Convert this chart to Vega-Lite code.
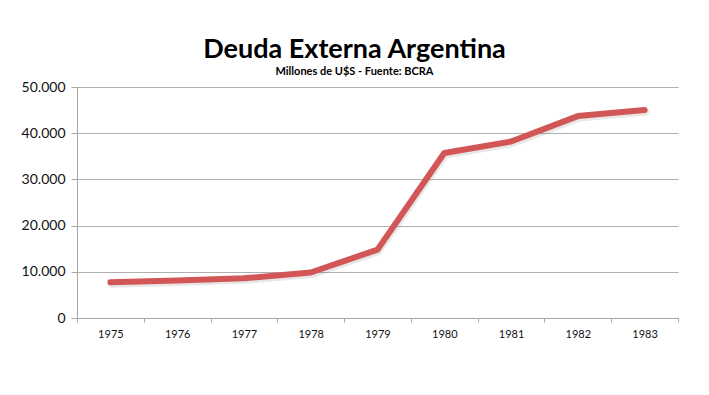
{
  "$schema": "https://vega.github.io/schema/vega-lite/v6.json",
  "width": 601,
  "height": 231,
  "autosize": {"type": "none"},
  "padding": {"left": 77, "top": 87, "right": 31, "bottom": 77},
  "background": "white",
  "title": {
    "text": "Deuda Externa Argentina",
    "subtitle": "Millones de U$S - Fuente: BCRA",
    "anchor": "middle",
    "dx": -23,
    "offset": 2,
    "font": "Lato",
    "fontSize": 27,
    "fontWeight": "bold",
    "color": "#000000",
    "subtitleFont": "Lato",
    "subtitleFontSize": 11,
    "subtitleFontWeight": "bold",
    "subtitleColor": "#000000",
    "subtitlePadding": 2
  },
  "data": {
    "values": [
      {"year": "1975", "deuda": 7750},
      {"year": "1976", "deuda": 8100},
      {"year": "1977", "deuda": 8600},
      {"year": "1978", "deuda": 9850},
      {"year": "1979", "deuda": 14800},
      {"year": "1980", "deuda": 35700},
      {"year": "1981", "deuda": 38200},
      {"year": "1982", "deuda": 43700},
      {"year": "1983", "deuda": 45000}
    ]
  },
  "encoding": {
    "x": {
      "field": "year",
      "type": "ordinal",
      "scale": {"type": "band", "paddingInner": 0, "paddingOuter": 0},
      "axis": {
        "title": null,
        "labelAngle": 0,
        "tickBand": "extent",
        "labelFont": "Lato",
        "labelFontSize": 11,
        "labelColor": "#111111",
        "labelPadding": 6,
        "domainColor": "#a8a8a8",
        "tickColor": "#a8a8a8",
        "tickSize": 4,
        "grid": false
      }
    },
    "y": {
      "field": "deuda",
      "type": "quantitative",
      "scale": {"domain": [0, 50000], "nice": false},
      "axis": {
        "title": null,
        "values": [0, 10000, 20000, 30000, 40000, 50000],
        "format": ",d",
        "labelFont": "Lato",
        "labelFontSize": 14,
        "labelColor": "#111111",
        "labelPadding": 6,
        "domainColor": "#a8a8a8",
        "tickColor": "#a8a8a8",
        "tickSize": 6,
        "gridColor": "#b0b0b0",
        "gridWidth": 1
      }
    }
  },
  "layer": [
    {
      "mark": {"type": "line", "color": "#606060", "strokeWidth": 7, "opacity": 0.15, "xOffset": 1, "yOffset": 2, "strokeCap": "round", "strokeJoin": "round"}
    },
    {
      "mark": {"type": "line", "color": "#d35656", "strokeWidth": 6, "strokeCap": "round", "strokeJoin": "round"}
    }
  ],
  "config": {
    "locale": {"number": {"decimal": ",", "thousands": ".", "grouping": [3], "currency": ["$", ""]}},
    "view": {"stroke": null}
  }
}
